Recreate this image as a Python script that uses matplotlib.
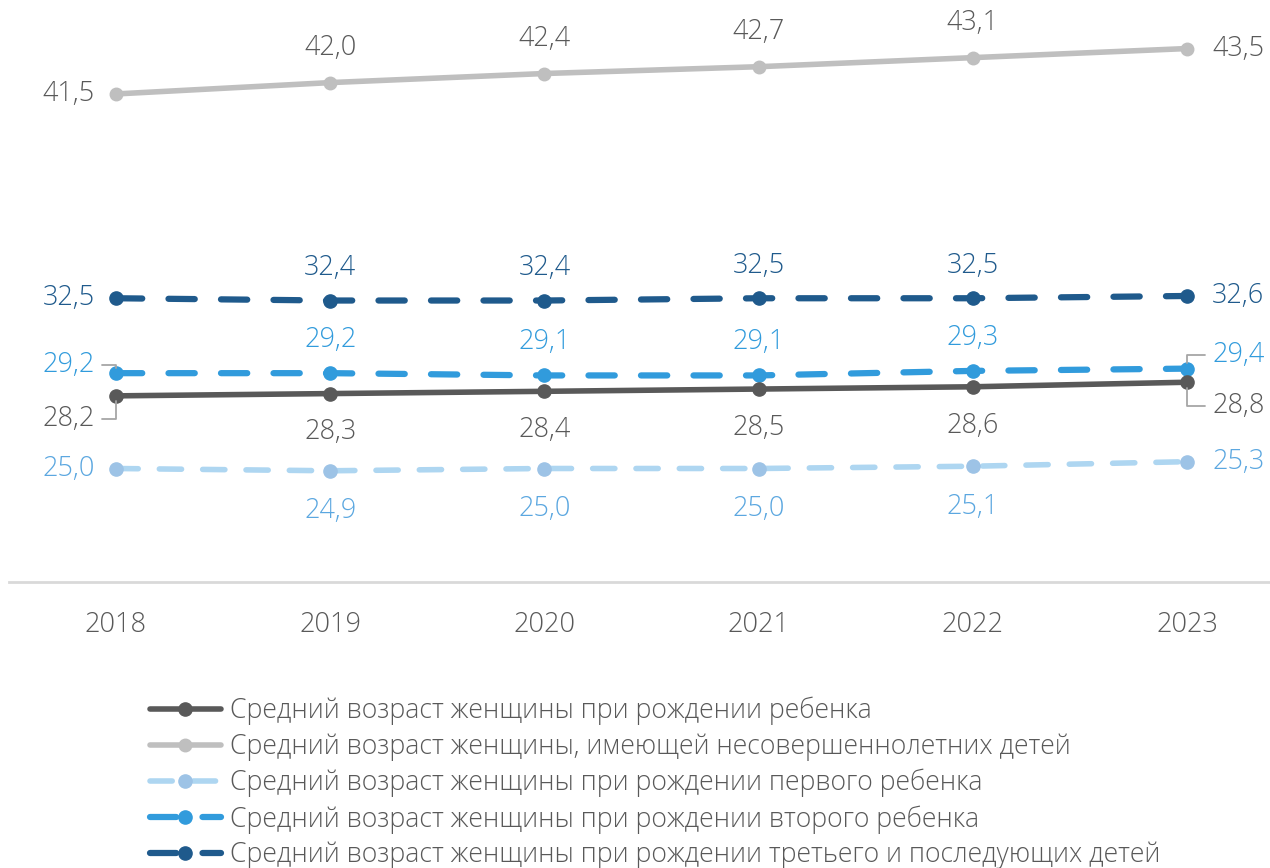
import matplotlib.pyplot as plt

plt.rcParams['font.family'] = ['Open Sans', 'DejaVu Sans']

years = [2018, 2019, 2020, 2021, 2022, 2023]
mean_all = [28.2, 28.3, 28.4, 28.5, 28.6, 28.8]
mean_minors = [41.5, 42.0, 42.4, 42.7, 43.1, 43.5]
first_child = [25.0, 24.9, 25.0, 25.0, 25.1, 25.3]
second_child = [29.2, 29.2, 29.1, 29.1, 29.3, 29.4]
third_child = [32.5, 32.4, 32.4, 32.5, 32.5, 32.6]

names = [
    "Средний возраст женщины при рождении ребенка",
    "Средний возраст женщины, имеющей несовершеннолетних детей",
    "Средний возраст женщины при рождении первого ребенка",
    "Средний возраст женщины при рождении второго ребенка",
    "Средний возраст женщины при рождении третьего и последующих детей",
]

c_mean, c_minors = "#595959", "#BFBFBF"
c_first_line, c_first_mk, c_first_txt = "#AED6F1", "#9DC3E6", "#5BA7E0"
c_second = "#319BDC"
c_third = "#1F5A8C"

W, H = 1270, 868
fig = plt.figure(figsize=(W / 100, H / 100), dpi=100)
ax = fig.add_axes([0, 1 - 582 / H, 1, 582 / H])

ax.plot(years, mean_minors, color=c_minors, lw=4, marker='o', ms=9,
        solid_capstyle='round', label=names[1])
ax.plot(years, first_child, color=c_first_line, lw=4, dashes=(4, 3.8),
        dash_capstyle='round', marker='o', ms=9.5, mfc=c_first_mk, mec=c_first_mk,
        label=names[2])
ax.plot(years, third_child, color=c_third, lw=4.5, dashes=(4.2, 4.2),
        dash_capstyle='round', marker='o', ms=9.5, label=names[4])
ax.plot(years, second_child, color=c_second, lw=4.5, dashes=(4.2, 4.2),
        dash_capstyle='round', marker='o', ms=9.5, label=names[3])
ax.plot(years, mean_all, color=c_mean, lw=4, marker='o', ms=9.5,
        solid_capstyle='round', label=names[0])

px = 5 / 1071
ax.set_xlim(2018 - 116 * px, 2023 + (W - 1187) * px)
ax.set_ylim(20, 20 + 582 / 22.7)
ax.set_yticks([])
ax.set_xticks(years)
ax.tick_params(axis='x', length=0, pad=21, labelsize=19.5, labelcolor='#595959')
for t in ax.get_xticklabels():
    t.set_fontweight('light')
for s in ['top', 'right', 'left']:
    ax.spines[s].set_visible(False)
ax.spines['bottom'].set_color('#D9D9D9')
ax.spines['bottom'].set_linewidth(2)
ax.spines['bottom'].set_bounds(2018 - 107 * px, 2024)

txt = dict(fontsize=19.5, fontweight='light')


def fmt(v):
    return f"{v:.1f}".replace('.', ',')


def lab(x, v, dx, dy, ha, color, arrow=None):
    ax.annotate(fmt(v), (x, v), xytext=(dx, dy), textcoords='offset points',
                ha=ha, va='center', color=color, arrowprops=arrow, **txt)


def series_labels(vals, color, dy_mid, dy0=0, dy1=0):
    lab(years[0], vals[0], -15, dy0, 'right', color)
    for x, v in zip(years[1:-1], vals[1:-1]):
        lab(x, v, 0, dy_mid, 'center', color)
    lab(years[-1], vals[-1], 18, dy1, 'left', color)


series_labels(mean_minors, '#595959', 25)
series_labels(third_child, c_third, 23.5)
series_labels(first_child, c_first_txt, -29)

# second child and overall mean: end labels have leader lines
for x, v in zip(years[1:-1], second_child[1:-1]):
    lab(x, v, 0, 24, 'center', c_second)
for x, v in zip(years[1:-1], mean_all[1:-1]):
    lab(x, v, 0, -28, 'center', '#595959')

lead = dict(arrowstyle='-', color='#A6A6A6', lw=1.3, shrinkA=3, shrinkB=4,
            connectionstyle='angle,angleA=0,angleB=90,rad=0')
lab(years[0], second_child[0], -15, 6, 'right', c_second, lead)
lab(years[0], mean_all[0], -15, -17, 'right', '#595959', lead)
lab(years[-1], second_child[-1], 18, 10, 'left', c_second, lead)
lab(years[-1], mean_all[-1], 18, -17, 'left', '#595959', lead)

handles, labels = ax.get_legend_handles_labels()
order = [labels.index(n) for n in names]
leg = fig.legend([handles[i] for i in order], [labels[i] for i in order],
                 loc='upper left', bbox_to_anchor=(150 / W, 1 - 697 / H),
                 frameon=False, handlelength=2.65, handletextpad=0.35,
                 labelspacing=0.29, borderaxespad=0, borderpad=0,
                 prop={'weight': 'light', 'size': 19.2})
for t in leg.get_texts():
    t.set_color('#595959')

fig.savefig('out.png', dpi=100)
